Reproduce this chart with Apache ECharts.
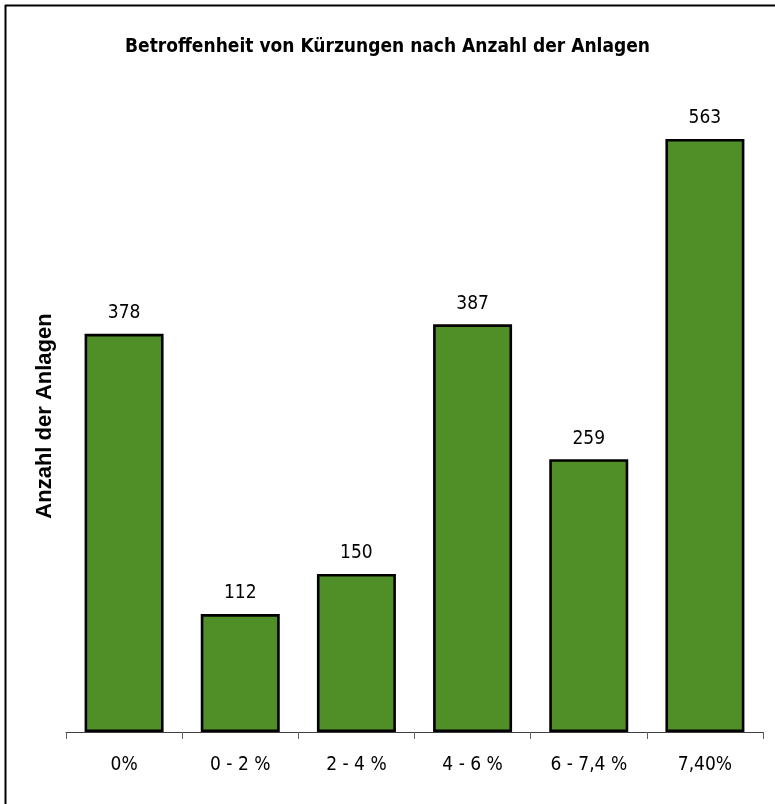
<!DOCTYPE html>
<html>
<head>
<meta charset="utf-8">
<script src="https://cdn.jsdelivr.net/npm/echarts@6/dist/echarts.min.js"></script>
<style>
html,body{margin:0;padding:0;background:#fff;}
#chart{width:775px;height:804px;}
</style>
</head>
<body>
<div id="chart"></div>
<script>
const categories = ['0%', '0 - 2 %', '2 - 4 %', '4 - 6 %', '6 - 7,4 %', '7,40%'];
const values = [378, 112, 150, 387, 259, 563];
const titleText = 'Betroffenheit von Kürzungen nach Anzahl der Anlagen';
const yAxisName = 'Anzahl der Anlagen';

const narrow = '"Liberation Sans Narrow", "DejaVu Sans Condensed", sans-serif';
const chart = echarts.init(document.getElementById('chart'));
chart.setOption({
  animation: false,
  backgroundColor: '#ffffff',
  title: {
    text: titleText,
    left: 'center',
    top: 33,
    textStyle: { fontFamily: narrow, fontWeight: 'bold', fontSize: 19, color: '#000' }
  },
  graphic: [
    { type: 'line', shape: { x1: 5, y1: 5.5, x2: 775, y2: 5.5 }, style: { stroke: '#000', lineWidth: 2 } },
    { type: 'line', shape: { x1: 5.5, y1: 5, x2: 5.5, y2: 804 }, style: { stroke: '#000', lineWidth: 2 } }
  ],
  grid: { left: 66, right: 12, top: 100, bottom: 72 },
  xAxis: {
    type: 'category',
    data: categories,
    axisLine: { lineStyle: { color: '#404040', width: 1 } },
    axisTick: { show: true, length: 7, lineStyle: { color: '#606060' } },
    axisLabel: { margin: 24, fontFamily: narrow, fontSize: 19, color: '#000' }
  },
  yAxis: {
    type: 'value',
    min: 0,
    max: 600,
    name: yAxisName,
    nameLocation: 'middle',
    nameRotate: 90,
    nameGap: 10,
    nameTextStyle: { fontFamily: '"Liberation Sans", Arial, sans-serif', fontWeight: 'bold', fontSize: 22, color: '#000' },
    axisLine: { show: false },
    axisTick: { show: false },
    axisLabel: { show: false },
    splitLine: { show: false }
  },
  series: [{
    type: 'bar',
    data: values,
    barWidth: '68%',
    itemStyle: { color: '#508F28', borderColor: '#000', borderWidth: 2.6 },
    label: {
      show: true,
      position: 'top',
      distance: 11,
      fontFamily: narrow,
      fontSize: 19,
      color: '#000'
    }
  }]
});
</script>
</body>
</html>
